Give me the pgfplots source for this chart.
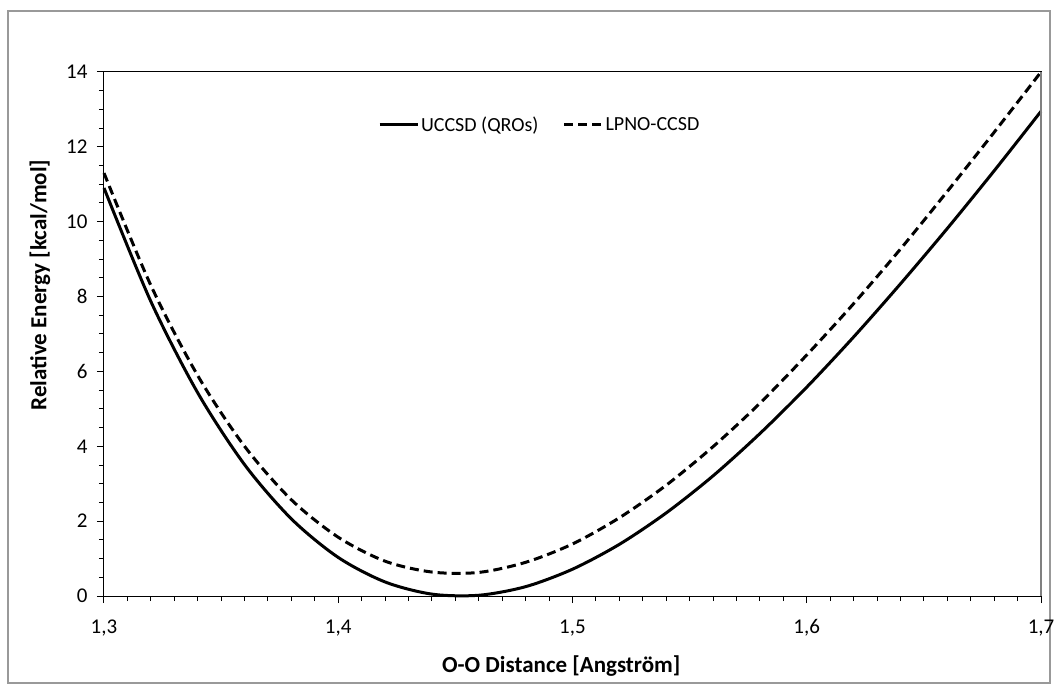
\documentclass[border=0pt]{standalone}
\usepackage{pgfplots}
\pgfplotsset{compat=1.18}
\usepackage{fontspec}
\setmainfont{Carlito}
\newcommand{\tf}{\fontsize{21}{25}\selectfont}
\begin{document}
\begin{tikzpicture}[x=1pt,y=1pt]
\useasboundingbox (-104,-97) rectangle (955,596);
\draw[gray!80, line width=1.2pt] (-96,-87) rectangle (946,585);
\begin{axis}[
  at={(0,0)}, anchor=south west,
  scale only axis, width=937pt, height=524pt,
  xmin=1.3, xmax=1.7, ymin=0, ymax=14,
  xtick={1.3,1.4,1.5,1.6,1.7},
  xticklabels={{\tf 1,3},{\tf 1,4},{\tf 1,5},{\tf 1,6},{\tf 1,7}},
  ytick={0,2,4,6,8,10,12,14},
  yticklabels={{\tf 0},{\tf 2},{\tf 4},{\tf 6},{\tf 8},{\tf 10},{\tf 12},{\tf 14}},
  xtick pos=bottom, ytick pos=left,
  minor x tick num=9, minor y tick num=3,
  tick align=outside, major tick length=7pt, minor tick length=5pt,
  tick style={black, line width=1pt},
  axis line style={black, line width=1pt},
  xticklabel style={yshift=-13pt},
  yticklabel style={xshift=-6pt},
  xlabel={\fontsize{23}{27}\selectfont\bfseries O-O Distance [Angström]},
  ylabel={\fontsize{23}{27}\selectfont\bfseries Relative Energy [kcal/mol]},
  xlabel style={at={(axis description cs:0.488,-0.134)}, anchor=center},
  ylabel style={at={(axis description cs:-0.0683,0.5935)}, anchor=center},
  legend style={draw=none, fill=none, at={(0.465,0.899)}, anchor=center, font=\fontsize{20}{24}\selectfont, legend columns=2, /tikz/every even column/.append style={column sep=22pt}},
  legend image code/.code={\draw[#1] (0pt,0pt) -- (38pt,0pt);},
  clip=false,
]
\addplot[black, line width=3pt, smooth] coordinates {
(1.30,10.90) (1.32,7.87) (1.34,5.43) (1.36,3.51) (1.38,2.06) (1.40,1.03)
(1.42,0.375) (1.44,0.05) (1.46,0.02) (1.48,0.25) (1.50,0.716) (1.52,1.38)
(1.54,2.22) (1.56,3.21) (1.58,4.34) (1.60,5.58) (1.62,6.92) (1.64,8.34)
(1.66,9.82) (1.68,11.36) (1.70,12.95)
};
\addlegendentry{UCCSD (QROs)}
\addplot[black, line width=3pt, dash pattern=on 9pt off 5pt, smooth] coordinates {
(1.30,11.30) (1.32,8.30) (1.34,5.89) (1.36,4.00) (1.38,2.57) (1.40,1.57)
(1.42,0.93) (1.44,0.64) (1.46,0.63) (1.48,0.90) (1.50,1.39) (1.52,2.09)
(1.54,2.96) (1.56,3.99) (1.58,5.15) (1.60,6.44) (1.62,7.81) (1.64,9.27)
(1.66,10.81) (1.68,12.39) (1.70,14.00)
};
\addlegendentry{LPNO-CCSD}
\draw[gray, line width=1.2pt] (rel axis cs:1,0) -- (rel axis cs:1,1);
\end{axis}
\end{tikzpicture}
\end{document}
